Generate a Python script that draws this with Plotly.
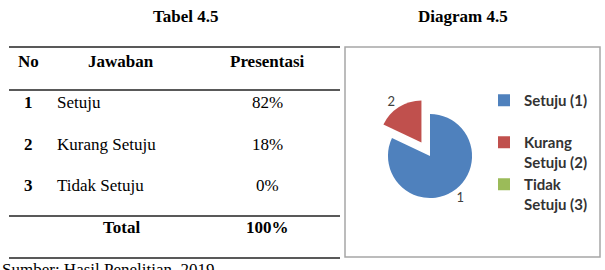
import plotly.graph_objects as go

# ---------------- data ----------------
table_title = "Tabel 4.5"
chart_title = "Diagram 4.5"
headers = ["No", "Jawaban", "Presentasi"]
row_no = ["1", "2", "3"]
answers = ["Setuju", "Kurang Setuju", "Tidak Setuju"]
percent_values = [82, 18, 0]
total_label = "Total"
total_value = 100
source_note = "Sumber: Hasil Penelitian, 2019"
legend_labels = ["Setuju (1)<br> ", "Kurang<br>Setuju (2)", "Tidak<br>Setuju (3)"]
slice_text = ["1", "2", ""]
colors = ["#4F81BD", "#C0504D", "#9BBB59"]

# ---------------- layout constants (pixels) ----------------
W, H = 605, 270
SERIF = "Liberation Serif"
FS = 17
col_no, col_ans_center, col_ans_left, col_pct = 28, 121, 55, 267
header_y = 61
row_y0, row_step = 102.5, 41.7
total_y = 227
rules_y = [47, 90, 216, 258]
rule_x = (9, 340)

fig = go.Figure()
# invisible trace to create pixel-space axes
fig.add_trace(go.Scatter(x=[0, W], y=[0, H], mode="markers", marker=dict(opacity=0),
                         hoverinfo="skip", showlegend=False))

ann = []
def txt(x, y, s, bold=False, anchor="center", size=FS, family=SERIF, color="#000"):
    ann.append(dict(x=x, y=y, xref="x", yref="y", text=s, showarrow=False,
                    xanchor=anchor, yanchor="middle",
                    font=dict(family=family, size=size, color=color,
                              weight="bold" if bold else "normal")))

txt(186, 16.5, table_title, bold=True)
txt(463, 16.5, chart_title, bold=True)
for x, h in zip([col_no, col_ans_center, col_pct], headers):
    txt(x, header_y, h, bold=True)
for i, (n, a, p) in enumerate(zip(row_no, answers, percent_values)):
    y = row_y0 + i * row_step
    txt(col_no, y, n, bold=True)
    txt(col_ans_left, y, a, anchor="left")
    txt(col_pct, y, f"{p}%")
txt(col_ans_center, total_y, total_label, bold=True)
txt(col_pct, total_y, f"{total_value}%", bold=True)
txt(0, 269, source_note, anchor="left")

shapes = []
for ry in rules_y:
    shapes.append(dict(type="line", xref="x", yref="y", x0=rule_x[0], x1=rule_x[1],
                       y0=ry, y1=ry, line=dict(color="#222", width=1.5)))
shapes.append(dict(type="rect", xref="x", yref="y", x0=345, x1=600, y0=47, y1=257,
                   line=dict(color="#A6A6A6", width=1.5)))

# pie geometry
cx, cy, box = 430, 156, 116
fig.add_trace(go.Pie(
    values=percent_values, labels=legend_labels, text=slice_text,
    textinfo="text", textposition="outside", sort=False, direction="clockwise",
    rotation=0, pull=[0, 0.38, 0],
    marker=dict(colors=colors, line=dict(width=0)),
    textfont=dict(family="Lato", size=13, color="#404040"),
    domain=dict(x=[(cx - box / 2) / W, (cx + box / 2) / W],
                y=[1 - (cy + box / 2) / H, 1 - (cy - box / 2) / H]),
    hoverinfo="label+percent",
))

fig.update_layout(
    width=W, height=H, margin=dict(l=0, r=0, t=0, b=0),
    paper_bgcolor="white", plot_bgcolor="white",
    xaxis=dict(visible=False, range=[0, W], fixedrange=True),
    yaxis=dict(visible=False, range=[H, 0], fixedrange=True),
    annotations=ann, shapes=shapes,
    showlegend=True,
    legend=dict(x=484 / W, y=1 - 84 / H, xanchor="left", yanchor="top", valign="top",
                font=dict(family="Lato", size=15, color="#333", weight="bold"),
                bgcolor="rgba(0,0,0,0)"),
)

fig.write_html("out.html")
